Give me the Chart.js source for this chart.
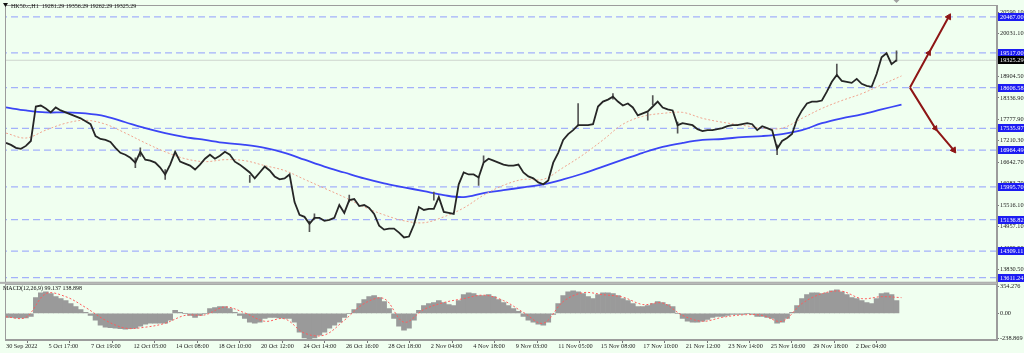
<!DOCTYPE html>
<html>
<head>
<meta charset="utf-8">
<script src="https://cdn.jsdelivr.net/npm/chart.js@4.4.0/dist/chart.umd.min.js"></script>
<style>
  html, body { margin: 0; padding: 0; background: #f0fff0; }
  #wrap { width: 1024px; height: 353px; }
</style>
</head>
<body>
<div id="wrap"><canvas id="chart" width="1024" height="353"></canvas></div>
<script>
// HK50.c H1, 30 Sep - 5 Dec 2022, one slot per sampled bar position
const closes = [
  17152, 17100, 17022, 16997, 17074, 17204, 18110, 18136, 18058, 17955,
  18084, 18007, 17955, 17903, 17851, 17799, 17722, 17644, 17333, 17256,
  17230, 17178, 17022, 16893, 16841, 16763, 16634, 16919, 16712, 16686,
  16634, 16504, 16323, 16582, 16919, 16660, 16608, 16556, 16453, 16582,
  16738, 16841, 16738, 16815, 16919, 16841, 16660, 16582, 16479, 16375,
  16220, 16375, 16530, 16427, 16271, 16194, 16220, 16323, 15598, 15261,
  15209, 15028, 15184, 15184, 15106, 15132, 15184, 15520, 15313, 15650,
  15676, 15494, 15520, 15443, 15287, 14976, 14873, 14899, 14899, 14795,
  14666, 14691, 15002, 15468, 15391, 15417, 15417, 15727, 15339, 15313,
  15287, 16064, 16375, 16323, 16323, 16245, 16634, 16738, 16686, 16634,
  16582, 16556, 16556, 16582, 16375, 16271, 16220, 16116, 16064, 16168,
  16634, 16893, 17230, 17385, 17489, 17618, 17618, 17618, 17644, 18110,
  18240, 18292, 18369, 18240, 18136, 18188, 18084, 17877, 17929, 17981,
  18110, 18240, 18084, 18033, 18007, 17618, 17670, 17644, 17618, 17515,
  17463, 17489, 17489, 17515, 17540, 17592, 17618, 17618, 17644, 17670,
  17644, 17489, 17592, 17540, 17489, 16997, 17204, 17281, 17385, 17774,
  18007, 18188, 18240, 18240, 18266, 18499, 18758, 18939, 18784, 18758,
  18732, 18835, 18706, 18654, 18628, 18965, 19405, 19509, 19224, 19325
];

// long candle wicks
const wickSlots = [26, 27, 32, 49, 61, 62, 69, 86, 95, 96, 115, 122, 129, 130, 135, 155, 167, 179];
const wickLows  = [16504, 16800, 16194, 16116, 14821, 15150, 15600, 15650, 16038, 16650, 17600, 18300, 17748, 18150, 17411, 16841, 18900, 19300];
const wickHighs = [16760, 17022, 16450, 16300, 15100, 15287, 15779, 15857, 16250, 16815, 18188, 18447, 17950, 18395, 17700, 17100, 19224, 19570];

// moving averages, one value every 4 slots
const maSlow = [
  18084, 18007, 17955, 17955, 17929, 17851, 17696, 17540, 17411, 17307,
  17230, 17152, 17100, 17022, 16893, 16712, 16530, 16375, 16220, 16090,
  15986, 15883, 15779, 15727, 15831, 15909, 15986, 16064, 16194, 16349,
  16530, 16712, 16893, 17048, 17152, 17230, 17256, 17307, 17333, 17385,
  17489, 17670, 17799, 17903, 18033, 18160
];
const maFast = [
  17411, 17281, 17489, 17670, 17748, 17644, 17411, 17152, 16919, 16738,
  16660, 16712, 16686, 16556, 16427, 16194, 15961, 15727, 15468, 15261,
  15106, 15054, 15209, 15443, 15779, 16038, 16194, 16194, 16504, 16841,
  17230, 17644, 17851, 17929, 17955, 17799, 17696, 17618, 17540, 17540,
  17799, 18058, 18266, 18447, 18680, 18913
];

// MACD(12,26,9)
const macdHist = [
  -40, -40, -45, -45, -45, -30, 160, 210, 220, 200,
  170, 150, 130, 100, 70, 40, 10, -20, -70, -120,
  -140, -145, -150, -155, -160, -155, -150, -130, -110, -100,
  -100, -100, -100, -70, 30, 10, 0, -20, -40, -20,
  0, 50, 60, 70, 70, 50, 10, -20, -50, -90,
  -100, -90, -50, -40, -40, -45, -50, -50, -90, -190,
  -250, -270, -250, -220, -190, -150, -120, -90, -40, 0,
  40, 100, 140, 170, 180, 160, 120, 50, -50, -130,
  -170, -150, -70, 30, 80, 100, 110, 130, 110, 90,
  80, 130, 190, 210, 200, 180, 180, 190, 170, 140,
  110, 80, 50, 20, -30, -70, -90, -110, -120, -90,
  -10, 100, 180, 220, 230, 220, 200, 170, 150, 190,
  210, 210, 200, 180, 150, 130, 100, 70, 70, 80,
  100, 120, 110, 90, 70, 0, -50, -80, -90, -90,
  -80, -60, -40, -30, -30, -20, -10, -10, -10, 0,
  -10, -30, -30, -40, -50, -100, -90, -50, 10, 80,
  150, 190, 210, 210, 200, 210, 230, 240, 220, 190,
  160, 150, 130, 110, 100, 150, 200, 210, 190, 130
];
const macdSignal = [
  -35, -40, 200, 170, 60, -70, -150, -140, -100, -20,
  -15, 65, 5, -80, -55, -200, -220, -70, 100, 150,
  -90, 40, 110, 150, 185, 130, 10, -100, 120, 210,
  190, 165, 90, 105, -20, -80, -40, -15, -20, -80,
  100, 200, 225, 150, 170, 160
];

const levels = [20467.00, 19517.00, 18606.58, 17535.97, 16964.49, 15995.70, 15136.82, 14309.11, 13611.24];
const lastPrice = 19325.29;
const priceTicks = [20590.10, 20031.10, 18904.50, 18336.90, 17777.90, 17210.30, 16642.70, 16083.70, 15516.10, 14957.10, 14389.50, 13830.50];
const macdTicks = [270, 0, -250];
const macdTickLabels = ['354.276', '0.00', '-238.869'];
const timeLabels = [
  '30 Sep 2022', '5 Oct 17:00', '7 Oct 19:00', '12 Oct 05:00', '14 Oct 08:00', '18 Oct 10:00',
  '20 Oct 12:00', '24 Oct 14:00', '26 Oct 16:00', '28 Oct 18:00', '2 Nov 04:00', '4 Nov 18:00',
  '9 Nov 03:00', '11 Nov 05:00', '15 Nov 08:00', '17 Nov 10:00', '21 Nov 12:00', '23 Nov 14:00',
  '25 Nov 16:00', '29 Nov 18:00', '2 Dec 04:00'
];
const arrowUpX = [181.7, 185.5, 189.5];
const arrowUpY = [18606.58, 19517.00, 20467.00];
const arrowDownX = [181.7, 186.8, 190.5];
const arrowDownY = [18606.58, 17535.97, 16964.49];

const X_MIN = -0.2, X_MAX = 199.2;
const LABEL_FONT = '6.3px "Liberation Serif"';

const bySlot = (vals, step) => vals.map((v, i) => ({ x: i * step, y: v }));
const pairs = (xs, ys) => xs.map((x, i) => ({ x: x, y: ys[i] }));

const levelSets = levels.map(v => ({
  type: 'line',
  data: [{ x: X_MIN - 1, y: v }, { x: X_MAX + 1, y: v }],
  borderColor: '#a3b1fa',
  borderWidth: 1.3,
  borderDash: [7, 4],
  pointRadius: 0,
  yAxisID: 'y',
  order: 20
}));

const overlay = {
  id: 'overlay',
  beforeDraw(chart) {
    const ctx = chart.ctx;
    ctx.save();
    ctx.fillStyle = '#f0fff0';
    ctx.fillRect(0, 0, chart.width, chart.height);
    ctx.restore();
  },
  afterDraw(chart) {
    const ctx = chart.ctx;
    const area = chart.chartArea;
    const y = chart.scales.y;
    const y2 = chart.scales.y2;
    const x = chart.scales.x;
    ctx.save();

    // frames
    ctx.strokeStyle = '#9c9c9c';
    ctx.lineWidth = 1;
    ctx.strokeRect(area.left + 0.5, y.top + 0.5, area.right - area.left - 1, y.bottom - y.top - 1);
    ctx.strokeRect(area.left + 0.5, y2.top + 1.5, area.right - area.left - 1, y2.bottom - y2.top - 2);
    ctx.fillStyle = '#b0b0b0';
    ctx.fillRect(0, y.bottom - 1, area.right, 2);

    // boxed price labels
    ctx.font = LABEL_FONT;
    ctx.textBaseline = 'middle';
    ctx.textAlign = 'left';
    levels.forEach(v => {
      const py = Math.round(y.getPixelForValue(v));
      ctx.fillStyle = '#1c1cf2';
      ctx.fillRect(area.right + 1, py - 4, 27, 8);
      ctx.fillStyle = '#ffffff';
      ctx.fillText(v.toFixed(2), area.right + 3, py + 0.5);
    });
    const lp = Math.round(y.getPixelForValue(lastPrice));
    ctx.fillStyle = '#000000';
    ctx.fillRect(area.right + 1, lp - 4, 27, 8);
    ctx.fillStyle = '#ffffff';
    ctx.fillText(lastPrice.toFixed(2), area.right + 3, lp + 0.5);

    // headers
    ctx.fillStyle = '#111';
    ctx.beginPath();
    ctx.moveTo(3, 3); ctx.lineTo(8, 3); ctx.lineTo(5.5, 7); ctx.closePath();
    ctx.fill();
    ctx.font = '6px "Liberation Serif"';
    ctx.fillText('HK50.c,H1  19281.29 19356.29 19262.29 19325.29', 11, 6);
    ctx.fillText('MACD(12,26,9) 99.137 138.898', 3, y2.top + 6);

    // shift marker at end of data
    const sx = x.getPixelForValue(closes.length - 1);
    ctx.fillStyle = '#a0a0a0';
    ctx.beginPath();
    ctx.moveTo(sx - 3, 0); ctx.lineTo(sx + 3, 0); ctx.lineTo(sx, 3); ctx.closePath();
    ctx.fill();
    ctx.restore();
  }
};

Chart.defaults.font.family = 'Liberation Serif';

new Chart(document.getElementById('chart'), {
  type: 'line',
  data: {
    datasets: [
      ...levelSets,
      {
        type: 'line',
        data: [{ x: X_MIN - 1, y: lastPrice }, { x: X_MAX + 1, y: lastPrice }],
        borderColor: '#cdd5cd',
        borderWidth: 1,
        pointRadius: 0,
        yAxisID: 'y',
        order: 19
      },
      {
        type: 'line',
        data: bySlot(maSlow, 4),
        borderColor: '#3b45f5',
        borderWidth: 1.8,
        tension: 0.35,
        pointRadius: 0,
        yAxisID: 'y',
        order: 6
      },
      {
        type: 'line',
        data: bySlot(maFast, 4),
        borderColor: '#f0a48f',
        borderWidth: 1,
        borderDash: [2, 2],
        tension: 0.35,
        pointRadius: 0,
        yAxisID: 'y',
        order: 5
      },
      {
        type: 'bar',
        data: wickSlots.map((s, i) => ({ x: s, y: [wickLows[i], wickHighs[i]] })),
        backgroundColor: '#555',
        barThickness: 1,
        grouped: false,
        yAxisID: 'y',
        order: 4
      },
      {
        type: 'line',
        data: bySlot(closes, 1),
        borderColor: '#262626',
        borderWidth: 1.8,
        tension: 0,
        pointRadius: 0,
        yAxisID: 'y',
        order: 3
      },
      {
        type: 'line',
        data: pairs(arrowUpX, arrowUpY),
        borderColor: '#8e1616',
        backgroundColor: '#8e1616',
        borderWidth: 2,
        pointStyle: 'triangle',
        pointRadius: [0, 3, 3.5],
        pointRotation: [0, 29, 29],
        pointBorderWidth: 1,
        yAxisID: 'y',
        order: 1
      },
      {
        type: 'line',
        data: pairs(arrowDownX, arrowDownY),
        borderColor: '#8e1616',
        backgroundColor: '#8e1616',
        borderWidth: 2,
        pointStyle: 'triangle',
        pointRadius: [0, 3, 3.5],
        pointRotation: [0, 145, 145],
        pointBorderWidth: 1,
        yAxisID: 'y',
        order: 1
      },
      {
        type: 'bar',
        data: bySlot(macdHist, 1),
        backgroundColor: '#9a9a9a',
        barPercentage: 1,
        categoryPercentage: 1,
        grouped: false,
        yAxisID: 'y2',
        order: 4
      },
      {
        type: 'line',
        data: bySlot(macdSignal, 4),
        borderColor: '#ff5c5c',
        borderWidth: 1,
        borderDash: [2, 2],
        tension: 0.35,
        pointRadius: 0,
        yAxisID: 'y2',
        order: 2
      }
    ]
  },
  options: {
    responsive: false,
    animation: false,
    layout: { padding: 0 },
    plugins: { legend: { display: false }, tooltip: { enabled: false } },
    scales: {
      x: {
        type: 'linear',
        min: X_MIN,
        max: X_MAX,
        offset: false,
        afterBuildTicks: s => { s.ticks = timeLabels.map((_, i) => ({ value: i * 8.54 })); },
        afterFit: s => { s.height = 13; s.paddingLeft = 0; s.paddingRight = 0; },
        ticks: {
          autoSkip: false,
          maxRotation: 0,
          align: 'start',
          padding: 0,
          color: '#222',
          font: { size: 6.3 },
          callback: (v, i) => timeLabels[i]
        },
        grid: { drawOnChartArea: false, tickLength: 3, color: '#777' },
        border: { display: true, color: '#9c9c9c' }
      },
      y: {
        type: 'linear',
        position: 'right',
        stack: 'panes',
        stackWeight: 282,
        min: 13474,
        max: 20778,
        afterBuildTicks: s => { s.ticks = priceTicks.map(v => ({ value: v })); },
        afterFit: s => { s.width = 27; s.paddingTop = 0; s.paddingBottom = 0; },
        ticks: {
          autoSkip: false,
          padding: 1,
          color: '#222',
          font: { size: 6.3 },
          callback: v => v.toFixed(2)
        },
        grid: { drawOnChartArea: false, tickLength: 2, color: '#777' },
        border: { display: true, color: '#9c9c9c' }
      },
      y2: {
        type: 'linear',
        position: 'right',
        stack: 'panes',
        stackWeight: 58,
        min: -270,
        max: 310,
        afterBuildTicks: s => { s.ticks = macdTicks.map(v => ({ value: v })); },
        afterFit: s => { s.width = 27; s.paddingTop = 0; s.paddingBottom = 0; },
        ticks: {
          autoSkip: false,
          padding: 1,
          color: '#222',
          font: { size: 6.3 },
          callback: (v, i) => macdTickLabels[i]
        },
        grid: { drawOnChartArea: false, tickLength: 2, color: '#777' },
        border: { display: true, color: '#9c9c9c' }
      }
    }
  },
  plugins: [overlay]
});
</script>
</body>
</html>
